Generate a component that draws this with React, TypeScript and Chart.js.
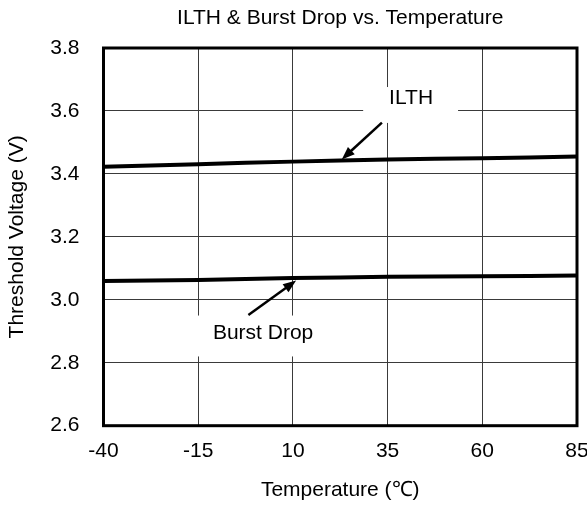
import React, { useEffect, useRef } from "react";
import { Chart, registerables } from "chart.js";

Chart.register(...registerables);

const temperatures = [-40, -15, 10, 35, 60, 85];
const ilthValues = [3.423, 3.431, 3.439, 3.446, 3.45, 3.455];
const burstDropValues = [3.06, 3.063, 3.069, 3.073, 3.075, 3.077];
const xTicks = [-40, -15, 10, 35, 60, 85];
const yTicks = [2.6, 2.8, 3.0, 3.2, 3.4, 3.6, 3.8];

const titleText = "ILTH & Burst Drop vs. Temperature";
const xTitle = "Temperature (℃)";
const yTitle = "Threshold Voltage (V)";

const ilthNote = {
  label: "ILTH",
  textX: 41.2,
  textY: 3.641,
  box: [28.55, 3.676, 53.6, 3.562],
  from: [33.5, 3.563],
  to: [22.9, 3.446],
};
const burstNote = {
  label: "Burst Drop",
  textX: 2.13,
  textY: 2.894,
  box: [-17.1, 2.95, 21.2, 2.82],
  from: [-1.75, 2.952],
  to: [10.85, 3.061],
};
const notes = [ilthNote, burstNote];

const FONT = "'Liberation Sans', Arial, sans-serif";
const FS = 21;

const titlePlugin = {
  id: "plotTitle",
  afterDraw(chart: any) {
    const { ctx, chartArea } = chart;
    ctx.save();
    ctx.fillStyle = "#000";
    ctx.font = `${FS}px ${FONT}`;
    ctx.textAlign = "center";
    ctx.textBaseline = "middle";
    ctx.fillText(titleText, (chartArea.left + chartArea.right) / 2, 18);
    ctx.restore();
  },
};

const framePlugin = {
  id: "frame",
  beforeDatasetsDraw(chart: any) {
    const { ctx, chartArea } = chart;
    ctx.save();
    ctx.strokeStyle = "#000";
    ctx.lineWidth = 3;
    ctx.strokeRect(
      chartArea.left,
      chartArea.top,
      chartArea.right - chartArea.left,
      chartArea.bottom - chartArea.top
    );
    ctx.restore();
  },
};

const notesPlugin = {
  id: "notes",
  afterDatasetsDraw(chart: any) {
    const { ctx } = chart;
    const xs = chart.scales.x;
    const ys = chart.scales.y;
    ctx.save();
    for (const n of notes) {
      const bx1 = xs.getPixelForValue(n.box[0]);
      const by1 = ys.getPixelForValue(n.box[1]);
      const bx2 = xs.getPixelForValue(n.box[2]);
      const by2 = ys.getPixelForValue(n.box[3]);
      ctx.fillStyle = "#fff";
      ctx.fillRect(bx1, by1, bx2 - bx1, by2 - by1);
      ctx.fillStyle = "#000";
      ctx.font = `${FS}px ${FONT}`;
      ctx.textAlign = "center";
      ctx.textBaseline = "middle";
      ctx.fillText(n.label, xs.getPixelForValue(n.textX), ys.getPixelForValue(n.textY));
      const fx = xs.getPixelForValue(n.from[0]);
      const fy = ys.getPixelForValue(n.from[1]);
      const tx = xs.getPixelForValue(n.to[0]);
      const ty = ys.getPixelForValue(n.to[1]);
      const ang = Math.atan2(ty - fy, tx - fx);
      const headLen = 13;
      const headHalf = 5;
      const bxp = tx - headLen * Math.cos(ang);
      const byp = ty - headLen * Math.sin(ang);
      ctx.strokeStyle = "#000";
      ctx.lineWidth = 2.5;
      ctx.beginPath();
      ctx.moveTo(fx, fy);
      ctx.lineTo(bxp + 2 * Math.cos(ang), byp + 2 * Math.sin(ang));
      ctx.stroke();
      ctx.beginPath();
      ctx.moveTo(tx, ty);
      ctx.lineTo(bxp + headHalf * Math.sin(ang), byp - headHalf * Math.cos(ang));
      ctx.lineTo(bxp - headHalf * Math.sin(ang), byp + headHalf * Math.cos(ang));
      ctx.closePath();
      ctx.fill();
    }
    ctx.restore();
  },
};

export default function App() {
  const canvasRef = useRef<HTMLCanvasElement | null>(null);

  useEffect(() => {
    if (!canvasRef.current) return;
    const chart = new Chart(canvasRef.current, {
      type: "line",
      data: {
        datasets: [
          {
            label: "ILTH",
            data: temperatures.map((t, i) => ({ x: t, y: ilthValues[i] })),
            borderColor: "#000",
            borderWidth: 4,
            pointRadius: 0,
            tension: 0.3,
            fill: false,
          },
          {
            label: "Burst Drop",
            data: temperatures.map((t, i) => ({ x: t, y: burstDropValues[i] })),
            borderColor: "#000",
            borderWidth: 4,
            pointRadius: 0,
            tension: 0.3,
            fill: false,
          },
        ],
      },
      options: {
        animation: false,
        responsive: true,
        maintainAspectRatio: false,
        layout: { padding: { left: 0, right: 10, top: 48, bottom: 0 } },
        plugins: {
          legend: { display: false },
          tooltip: { enabled: false },
          title: { display: false },
        },
        scales: {
          x: {
            type: "linear",
            min: -40,
            max: 85,
            afterBuildTicks: (s: any) => {
              s.ticks = xTicks.map((v) => ({ value: v }));
            },
            afterFit: (s: any) => {
              s.height = 80.3;
              s.paddingLeft = 0;
              s.paddingRight = 0;
            },
            grid: { color: "#3a3a3a", lineWidth: 1, drawTicks: false },
            border: { display: false },
            ticks: {
              color: "#000",
              padding: 13.4,
              maxRotation: 0,
              autoSkip: false,
              font: { family: FONT, size: FS, lineHeight: 1.2 },
              callback: (v: any) => String(v),
            },
            title: {
              display: true,
              text: xTitle,
              color: "#000",
              font: { family: FONT, size: FS, lineHeight: 1.2 },
              padding: { top: 0, bottom: 3.4 },
            },
          },
          y: {
            type: "linear",
            min: 2.6,
            max: 3.8,
            afterBuildTicks: (s: any) => {
              s.ticks = yTicks.map((v) => ({ value: v }));
            },
            afterFit: (s: any) => {
              s.width = 103.5;
              s.paddingTop = 0;
              s.paddingBottom = 0;
            },
            grid: { color: "#3a3a3a", lineWidth: 1, drawTicks: false },
            border: { display: false },
            ticks: {
              color: "#000",
              padding: 24,
              autoSkip: false,
              font: { family: FONT, size: FS, lineHeight: 1.2 },
              callback: (v: any) => Number(v).toFixed(1),
            },
            title: {
              display: true,
              text: yTitle,
              color: "#000",
              font: { family: FONT, size: FS, lineHeight: 1.2 },
              padding: { top: 4.9, bottom: 0 },
            },
          },
        },
      },
      plugins: [framePlugin, notesPlugin, titlePlugin],
    });
    return () => chart.destroy();
  }, []);

  return (
    <div style={{ position: "fixed", left: 0, top: 0, width: 587, height: 506, background: "#fff" }}>
      <canvas ref={canvasRef} />
    </div>
  );
}
